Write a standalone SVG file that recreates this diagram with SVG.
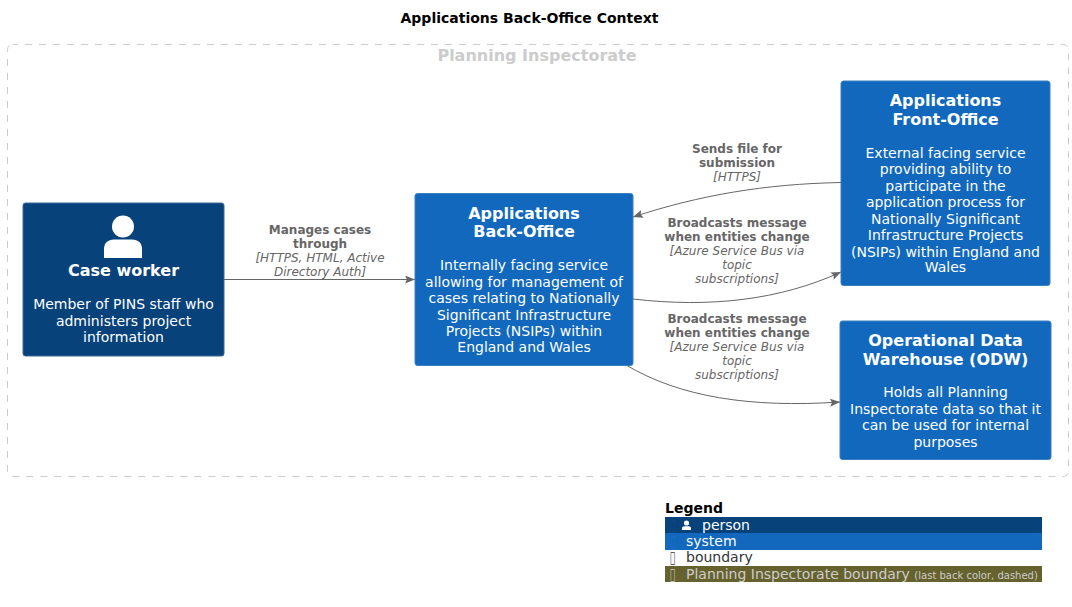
<svg xmlns="http://www.w3.org/2000/svg" width="1072" height="607" viewBox="0 0 1072 607">
<style>
text{font-family:"DejaVu Sans",sans-serif}
.c{text-anchor:middle}
.n{font-size:16px;font-weight:bold;fill:#fff}
.d{font-size:14px;fill:#fff}
.lb{font-size:12px;font-weight:bold;fill:#666}
.li{font-size:12px;font-style:italic;fill:#666}
.box{fill:#1168BD;stroke:#3C7FC0;stroke-width:1}
.con{fill:none;stroke:#666;stroke-width:1}
.lg{font-size:14px}
</style>
<defs>
<marker id="a" markerUnits="userSpaceOnUse" markerWidth="11" markerHeight="10" refX="10" refY="4" orient="auto"><path d="M0 0L10 4L0 8L2 4Z" fill="#666"/></marker>
</defs>
<rect width="1072" height="607" fill="#fff"/>
<text id="title" class="c" x="529.5" y="23" font-size="14" font-weight="bold">Applications Back-Office Context</text>
<g id="boundary">
<rect x="7.5" y="44.5" width="1061" height="432" rx="5" fill="none" stroke="#CCC" stroke-dasharray="7 7" stroke-dashoffset="1.5"/>
<text class="c" x="537" y="61" font-size="16" font-weight="bold" fill="#CCC">Planning Inspectorate</text>
</g>
<g id="connectors">
<path class="con" marker-end="url(#a)" d="M224 279.5H415"/>
<path class="con" marker-end="url(#a)" d="M841 182.5C765 184 700 195 633 217"/>
<path class="con" marker-end="url(#a)" d="M633 299C710 308 780 300 841 272"/>
<path class="con" marker-end="url(#a)" d="M626 365C680 397 750 408 840 402"/>
<g class="c">
<text class="lb" x="320" y="234">Manages cases</text>
<text class="lb" x="320" y="248">through</text>
<text class="li" x="320" y="262">[HTTPS, HTML, Active</text>
<text class="li" x="320" y="276">Directory Auth]</text>
<text class="lb" x="737" y="153">Sends file for</text>
<text class="lb" x="737" y="167">submission</text>
<text class="li" x="737" y="181">[HTTPS]</text>
<text class="lb" x="737" y="227">Broadcasts message</text>
<text class="lb" x="737" y="241">when entities change</text>
<text class="li" x="737" y="255">[Azure Service Bus via</text>
<text class="li" x="737" y="269">topic</text>
<text class="li" x="737" y="283">subscriptions]</text>
<text class="lb" x="737" y="323">Broadcasts message</text>
<text class="lb" x="737" y="337">when entities change</text>
<text class="li" x="737" y="351">[Azure Service Bus via</text>
<text class="li" x="737" y="365">topic</text>
<text class="li" x="737" y="379">subscriptions]</text>
</g>
</g>
<g id="case-worker" class="c">
<rect x="23" y="203" width="201" height="153" rx="2.5" fill="#08427B" stroke="#3C6A97"/>
<circle cx="123" cy="226.500" r="11" fill="#fff"/>
<path d="M104 258V249C104 243 108 239.500 114 239.500H132C138 239.500 142 243 142 249V258Z" fill="#fff"/>
<text class="n" x="123.500" y="276">Case worker</text>
<text class="d" x="123.500" y="309">Member of PINS staff who</text>
<text class="d" x="123.500" y="326">administers project</text>
<text class="d" x="123.500" y="342">information</text>
</g>
<g id="back-office" class="c">
<rect class="box" x="415" y="193.500" width="218" height="172" rx="2.500"/>
<text class="n" x="524" y="219">Applications</text>
<text class="n" x="524" y="237">Back-Office</text>
<text class="d" x="524" y="270">Internally facing service</text>
<text class="d" x="524" y="287">allowing for management of</text>
<text class="d" x="524" y="303">cases relating to Nationally</text>
<text class="d" x="524" y="320">Significant Infrastructure</text>
<text class="d" x="524" y="336">Projects (NSIPs) within</text>
<text class="d" x="524" y="352">England and Wales</text>
</g>
<g id="front-office" class="c">
<rect class="box" x="841" y="81" width="209" height="204.500" rx="2.500"/>
<text class="n" x="945.500" y="106">Applications</text>
<text class="n" x="945.500" y="125">Front-Office</text>
<text class="d" x="945.500" y="158">External facing service</text>
<text class="d" x="945.500" y="174">providing ability to</text>
<text class="d" x="945.500" y="191">participate in the</text>
<text class="d" x="945.500" y="207">application process for</text>
<text class="d" x="945.500" y="224">Nationally Significant</text>
<text class="d" x="945.500" y="240">Infrastructure Projects</text>
<text class="d" x="945.500" y="257">(NSIPs) within England and</text>
<text class="d" x="945.500" y="272">Wales</text>
</g>
<g id="odw" class="c">
<rect class="box" x="840" y="321" width="211" height="138.500" rx="2.500"/>
<text class="n" x="945.500" y="346">Operational Data</text>
<text class="n" x="945.500" y="365">Warehouse (ODW)</text>
<text class="d" x="945.500" y="397">Holds all Planning</text>
<text class="d" x="945.500" y="414">Inspectorate data so that it</text>
<text class="d" x="945.500" y="430">can be used for internal</text>
<text class="d" x="945.500" y="447">purposes</text>
</g>
<g id="legend">
<text x="665" y="513" font-size="14" font-weight="bold">Legend</text>
<rect x="665" y="517" width="377" height="16" fill="#08427B"/>
<rect x="665" y="533" width="377" height="17" fill="#1168BD"/>
<rect x="665" y="566" width="377" height="16" fill="#66622E"/>
<circle cx="686.500" cy="523" r="2.600" fill="#fff"/>
<path d="M682 530V528.500C682 527 683 526.300 684.500 526.300H688.500C690 526.300 691 527 691 528.500V530Z" fill="#fff"/>
<g class="lg">
<text transform="translate(670 530) scale(.6 1)" fill="#0E4A85">&#xF0000;</text>
<text x="702" y="530" fill="#fff">person</text>
<text transform="translate(670 546) scale(.6 1)" fill="#1B72C6">&#xF0000;</text>
<text x="686" y="546" fill="#fff">system</text>
<text transform="translate(670 562) scale(.6 1)" fill="#333">&#xF0000;</text>
<text x="686" y="562" fill="#333">boundary</text>
<text transform="translate(670 579) scale(.6 1)" fill="#CCC">&#xF0000;</text>
<text x="686" y="579" fill="#CCC">Planning Inspectorate boundary <tspan font-size="10">(last back color, dashed)</tspan></text>
</g>
</g>
</svg>
